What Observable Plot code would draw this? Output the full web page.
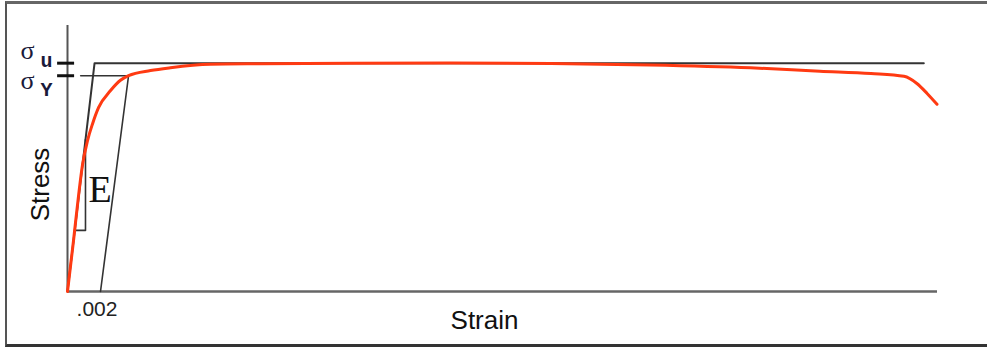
<!DOCTYPE html>
<html>
<head>
<meta charset="utf-8">
<script src="https://cdn.jsdelivr.net/npm/d3@7"></script>
<script src="https://cdn.jsdelivr.net/npm/@observablehq/plot@0.6"></script>
<style>
  html, body { margin: 0; padding: 0; background: #fff; }
  #wrap { position: relative; width: 987px; height: 347px; overflow: hidden; }
  #border { position: absolute; left: 5px; top: 1px; width: 1000px; height: 340px;
            border-top: 3px solid #666; border-left: 2px solid #555; border-bottom: 3px solid #333;
            pointer-events: none; }
</style>
</head>
<body>
<div id="wrap"><div id="chart"></div><div id="border"></div></div>
<script>
// Stress–strain curve (strain, stress in MPa)
const strain = [0, 0.00036, 0.00067, 0.00091, 0.00121, 0.00152, 0.00188, 0.00261, 0.00321, 0.0037,
  0.00503, 0.00624, 0.00867, 0.0117, 0.0172, 0.0232, 0.0293, 0.0353, 0.0414, 0.0456,
  0.0487, 0.0507, 0.0515, 0.0521, 0.0527];
const stress = [0, 88, 168, 222, 264, 294, 322, 352, 370, 378,
  387, 392, 398, 399, 400, 400.5, 399.5, 397, 392, 386,
  382, 377, 364, 347, 328];

const sigmaU = 400;
const sigmaY = 378;
const offsetStrain = 0.002;

// construction lines
const elasticX = [0, 0.00164, 0.0519];
const elasticY = [0, sigmaU, sigmaU];
const offsetX = [offsetStrain, 0.0037];
const offsetY = [0, sigmaY];
const yieldX = [0.0008, 0.0037];
const yieldY = [sigmaY, sigmaY];
const triX = [0.00044, 0.00109, 0.00109];
const triY = [107, 107, 266];

const xTicks = [offsetStrain];
const xTickLabels = [".002"];

const zip = (a, b) => a.map((v, i) => ({x: v, y: b[i]}));
const curve = zip(strain, stress);
const elastic = zip(elasticX, elasticY);
const offset = zip(offsetX, offsetY);
const yieldLine = zip(yieldX, yieldY);
const tri = zip(triX, triY);

const sans = "Liberation Sans, Arial, sans-serif";
const serif = "Liberation Serif, Times New Roman, serif";
const mono = "Liberation Mono, Courier New, monospace";

const chart = Plot.plot({
  width: 987,
  height: 347,
  marginLeft: 67,
  marginRight: 50,
  marginTop: 25,
  marginBottom: 56,
  x: {domain: [0, 0.05273], axis: null},
  y: {domain: [0, 466], axis: null},
  marks: [
    Plot.ruleX([0], {stroke: "#555", strokeWidth: 2}),
    Plot.ruleY([0], {stroke: "#666", strokeWidth: 2.5}),
    Plot.line(elastic, {x: "x", y: "y", stroke: "#333", strokeWidth: 2}),
    Plot.line(offset, {x: "x", y: "y", stroke: "#333", strokeWidth: 1.6}),
    Plot.line(yieldLine, {x: "x", y: "y", stroke: "#333", strokeWidth: 1.6}),
    Plot.line(tri, {x: "x", y: "y", stroke: "#333", strokeWidth: 1.6}),
    Plot.line(curve, {x: "x", y: "y", stroke: "#ff3a12", strokeWidth: 3, curve: "monotone-x"}),
    Plot.ruleY([sigmaU, sigmaY], {x1: -0.0006, x2: 0.00043, stroke: "#111", strokeWidth: 3}),
    // sigma labels
    Plot.text([sigmaU], {y: d => d, text: () => "σ", frameAnchor: "left", dx: -40, dy: -3.7,
      textAnchor: "middle", lineAnchor: "bottom", fontSize: 26, fontFamily: serif, fill: "#1a1a3a"}),
    Plot.text([sigmaU], {y: d => d, text: () => "u", frameAnchor: "left", dx: -27, dy: 4,
      textAnchor: "start", lineAnchor: "bottom", fontSize: 20, fontWeight: "bold", fontFamily: mono, fill: "#1a1a3a"}),
    Plot.text([sigmaY], {y: d => d, text: () => "σ", frameAnchor: "left", dx: -40, dy: 12.8,
      textAnchor: "middle", lineAnchor: "bottom", fontSize: 26, fontFamily: serif, fill: "#1a1a3a"}),
    Plot.text([sigmaY], {y: d => d, text: () => "Y", frameAnchor: "left", dx: -27, dy: 20,
      textAnchor: "start", lineAnchor: "bottom", fontSize: 20, fontWeight: "bold", fontFamily: mono, fill: "#1a1a3a"}),
    // E label
    Plot.text([triY[0]], {x: triX[1], y: d => d, text: () => "E", dx: 3, dy: -28,
      textAnchor: "start", lineAnchor: "bottom", fontSize: 38, fontFamily: serif, fill: "#111"}),
    // x tick label
    Plot.text(xTicks, {x: d => d, text: (d, i) => xTickLabels[i], frameAnchor: "bottom", dx: -3.5, dy: 24,
      textAnchor: "middle", lineAnchor: "bottom", fontSize: 21, fontFamily: sans, fill: "#222"}),
    // axis titles
    Plot.text(["Strain"], {text: d => d, frameAnchor: "bottom", dx: -18, dy: 37,
      textAnchor: "middle", lineAnchor: "bottom", fontSize: 26, fontFamily: sans, fill: "#111"}),
    Plot.text(["Stress"], {text: d => d, frameAnchor: "left", dx: -26.5, dy: 26, rotate: -90,
      textAnchor: "middle", lineAnchor: "middle", fontSize: 26, fontFamily: sans, fill: "#111"})
  ]
});
document.getElementById("chart").appendChild(chart);
</script>
</body>
</html>
